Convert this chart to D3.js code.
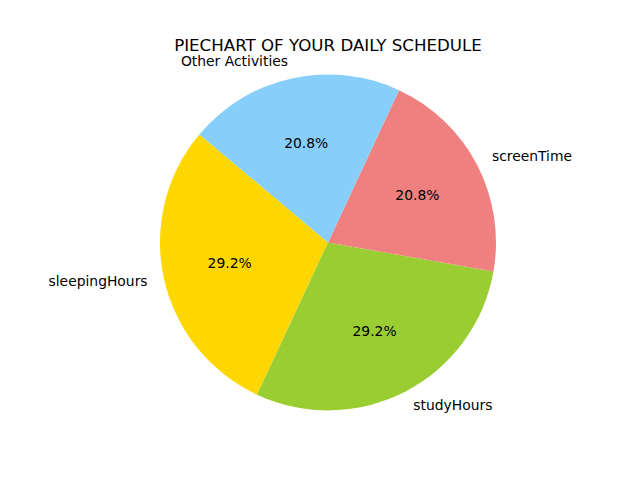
<!DOCTYPE html>
<html><head><meta charset="utf-8">
<script src="https://cdn.jsdelivr.net/npm/d3@7"></script>
<style>body{margin:0;background:#fff}svg{display:block;font-family:"DejaVu Sans",sans-serif}</style>
</head><body>
<svg id="c" width="640" height="480"></svg>
<script>
const categories = ["sleepingHours", "studyHours", "screenTime", "Other Activities"];
const values = [7, 7, 5, 5];
const colors = ["gold", "yellowgreen", "lightcoral", "lightskyblue"];
const title = "PIECHART OF YOUR DAILY SCHEDULE";

const svg = d3.select("#c");
const cx = 328, cy = 242.4, R = 168;
const startDeg = 140; // matplotlib startangle, counterclockwise
const total = d3.sum(values);
const g = svg.append("g").attr("transform", `translate(${cx},${cy})`);

const toD3 = deg => (90 - deg) * Math.PI / 180;
const frac = d3.scaleLinear().domain([0, total]).range([0, 360]);

let acc = 0;
const slices = values.map((v, i) => {
  const a0 = startDeg + frac(acc);
  acc += v;
  const a1 = startDeg + frac(acc);
  return {i, v, a0, a1};
});
const arc = d3.arc().innerRadius(0).outerRadius(R);
g.selectAll("path").data(slices).join("path")
  .attr("d", d => arc({startAngle: toD3(d.a1), endAngle: toD3(d.a0)}))
  .attr("fill", d => colors[d.i]);

slices.forEach(d => {
  const mid = (d.a0 + d.a1) / 2 * Math.PI / 180;
  const lx = Math.cos(mid) * R * 1.1, ly = -Math.sin(mid) * R * 1.1 - 1;
  g.append("text").attr("x", lx).attr("y", ly)
    .attr("text-anchor", lx > 0 ? "start" : "end")
    .attr("dominant-baseline", "central")
    .attr("font-size", "13.89px").attr("fill", "#000")
    .text(categories[d.i]);
  const px = Math.cos(mid) * R * 0.6, py = -Math.sin(mid) * R * 0.6 - 1;
  g.append("text").attr("x", px).attr("y", py)
    .attr("text-anchor", "middle")
    .attr("dominant-baseline", "central")
    .attr("font-size", "13.89px").attr("fill", "#000")
    .text((d.v / total * 100).toFixed(1) + "%");
});

svg.append("text").attr("x", cx).attr("y", 50.5)
  .attr("text-anchor", "middle").attr("font-size", "16.67px").attr("fill", "#000")
  .text(title);
</script>
</body></html>
